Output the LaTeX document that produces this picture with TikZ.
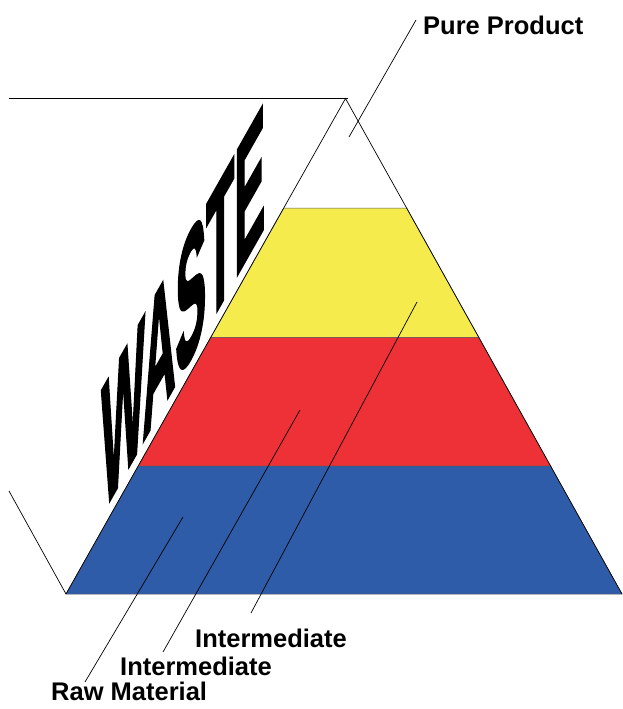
\documentclass[tikz,border=0pt]{standalone}
\usepackage{fontspec}
\setmainfont{Liberation Sans}
\newfontfamily\wastefont[FakeBold=2.5]{Liberation Sans Bold}
\usepackage{xcolor}
\usepackage{tikz}
\usetikzlibrary{positioning,calc}

\definecolor{pyryellow}{RGB}{245,235,76}
\definecolor{pyrred}{RGB}{238,49,54}
\definecolor{pyrblue}{RGB}{46,92,168}

\begin{document}
\begin{tikzpicture}[
    x=1pt, y=-1pt,
    band/.style={draw=black!65, line width=0.5pt},
    edge/.style={draw=black, line width=0.7pt},
    leader/.style={black, line width=0.7pt},
    label/.style={anchor=base west, inner sep=0pt, font=\bfseries\fontsize{25.5}{30}\selectfont},
    waste/.style={anchor=base west, inner sep=0pt, transform shape, font=\wastefont\fontsize{20}{24}\selectfont}
]
\useasboundingbox (0,0) rectangle (623,709);

% corners of the pyramid
\coordinate (apex) at (345.5,98.5);
\coordinate (bl) at (66,594);
\coordinate (br) at (622,594);

% band boundaries
\coordinate (y1l) at ($(apex)!0.221!(bl)$);
\coordinate (y1r) at ($(apex)!0.221!(br)$);
\coordinate (r1l) at ($(apex)!0.482!(bl)$);
\coordinate (r1r) at ($(apex)!0.482!(br)$);
\coordinate (b1l) at ($(apex)!0.742!(bl)$);
\coordinate (b1r) at ($(apex)!0.742!(br)$);

% coloured bands
\fill[pyryellow, band] (y1l) -- (y1r) -- (r1r) -- (r1l) -- cycle;
\fill[pyrred, band] (r1l) -- (r1r) -- (b1r) -- (b1l) -- cycle;
\fill[pyrblue, band] (b1l) -- (b1r) -- (br) -- (bl) -- cycle;
\draw[edge] (bl) -- (apex) -- (br);

% the waste wall
\coordinate (walltop) at (9,98.5);
\coordinate (wallbot) at (9,491);
\draw[edge] (walltop) -- (348,98.5);
\draw[edge] (wallbot) -- (bl);

\begin{scope}[shift={(101,516)}, cm={2.3,4.07,0,9.0,(0,0)}]
\node[waste] (waste) at (0,0) {WASTE};
\end{scope}

% labels
\node[label] (pure) at (423,35) {Pure Product};
\node[label] (inter2) at (195,647) {Intermediate};
\node[label] (inter1) at (120,675) {Intermediate};
\node[label] (raw) at (51,700) {Raw Material};

% leader lines
\coordinate (pp-in) at (349,137);
\coordinate (pp-out) at (416,20);
\coordinate (i2-in) at (417,302);
\coordinate (i2-out) at (251,613);
\coordinate (i1-in) at (300,410);
\coordinate (i1-out) at (163,652);
\coordinate (rm-in) at (183,517);
\coordinate (rm-out) at (85,682);

\draw[leader] (pp-in) -- (pp-out);
\draw[leader] (i2-in) -- (i2-out);
\draw[leader] (i1-in) -- (i1-out);
\draw[leader] (rm-in) -- (rm-out);

\end{tikzpicture}
\end{document}
